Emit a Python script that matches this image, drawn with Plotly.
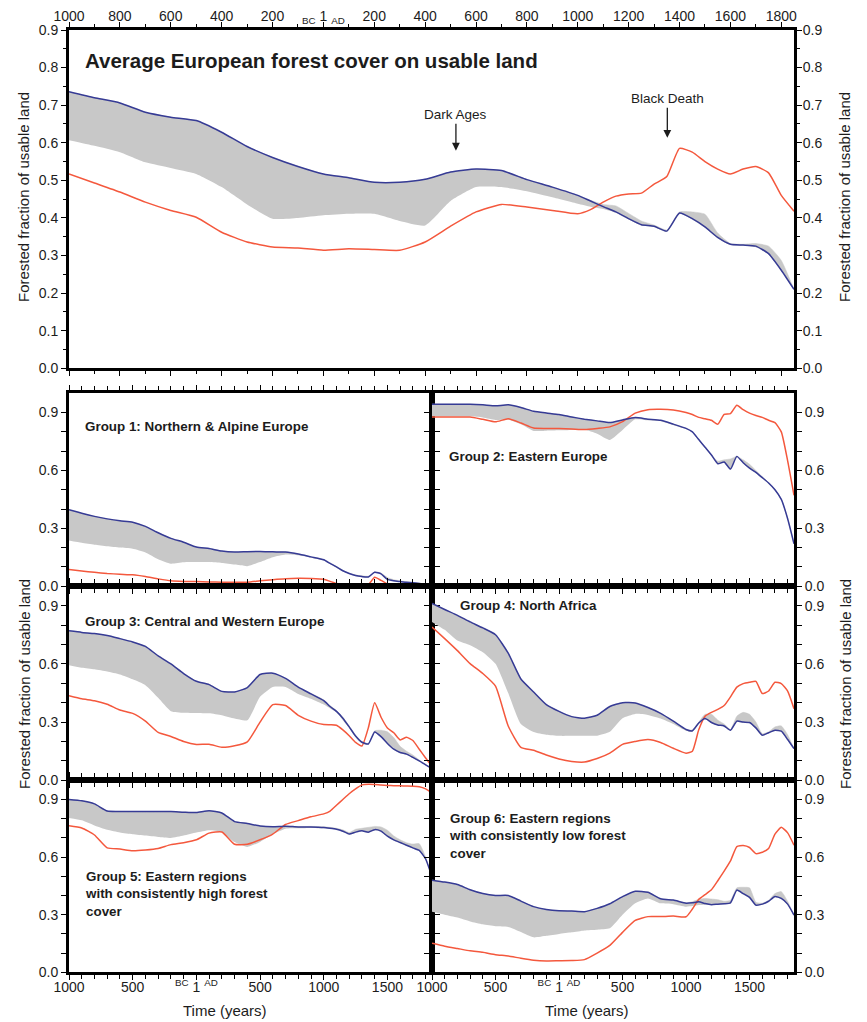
import plotly.graph_objects as go

# ---------------- data ----------------
years = [-1000, -900, -800, -700, -600, -500, -400, -300, -200, -100, 0, 100, 200, 300, 400,
         500, 600, 700, 800, 900, 1000, 1050, 1100, 1150, 1200, 1250, 1300, 1350, 1400, 1450,
         1500, 1550, 1600, 1650, 1700, 1750, 1800, 1850]

avg_blue = [.736, .72, .706, .681, .668, .659, .628, .59, .561, .537, .517, .507, .495, .495, .503,
            .522, .53, .526, .502, .482, .46, .445, .43, .416, .398, .382, .378, .365, .413, .398,
            .376, .348, .33, .328, .325, .305, .261, .21]
avg_hi = [.736, .72, .706, .681, .668, .659, .628, .59, .561, .537, .517, .507, .495, .495, .503,
          .522, .53, .526, .502, .482, .46, .447, .436, .432, .412, .392, .381, .368, .416, .416,
          .41, .36, .332, .33, .332, .325, .287, .21]
avg_lo = [.607, .592, .575, .548, .533, .517, .482, .436, .398, .40, .407, .411, .411, .392, .38,
          .445, .482, .482, .471, .455, .438, .43, .424, .414, .396, .38, .376, .363, .411, .396,
          .374, .346, .328, .326, .322, .303, .26, .208]
avg_red = [.517, .493, .469, .442, .42, .402, .362, .336, .323, .32, .314, .318, .316, .314, .336,
           .378, .416, .436, .429, .42, .411, .422, .442, .458, .464, .466, .49, .51, .585, .575,
           .55, .53, .517, .53, .537, .52, .46, .418]

g1_blue = [.396, .378, .362, .349, .339, .332, .31, .277, .248, .228, .203, .195, .182, .177, .179,
           .18, .178, .177, .167, .152, .137, .118, .1, .08, .066, .055, .05, .048, .072, .064,
           .035, .028, .024, .02, .018, .014, .009, .003]
g1_hi = [.396, .378, .362, .349, .339, .332, .31, .277, .248, .228, .203, .195, .182, .177, .179,
         .18, .178, .177, .167, .152, .137, .12, .102, .082, .068, .058, .054, .052, .075, .068,
         .045, .034, .028, .023, .02, .016, .01, .003]
g1_lo = [.237, .225, .215, .207, .2, .194, .175, .14, .117, .124, .125, .125, .12, .112, .104,
         .125, .15, .164, .16, .148, .133, .115, .096, .077, .063, .052, .047, .045, .07, .062,
         .033, .026, .022, .018, .016, .012, .007, .002]
g1_red = [.087, .079, .072, .066, .062, .059, .05, .038, .028, .025, .024, .022, .021, .021, .021,
          .028, .034, .039, .041, .04, .036, .025, .014, .008, .005, .003, .004, .008, .046, .03,
          .012, .009, .008, .006, .004, .003, .001, 0]

g2_blue = [.943, .943, .943, .943, .94, .935, .94, .926, .907, .898, .89, .877, .866, .857, .848,
           .862, .874, .866, .86, .84, .818, .8, .76, .72, .68, .635, .644, .607, .673, .64,
           .612, .59, .563, .535, .5, .45, .35, .22]
g2_hi = [.943, .943, .943, .943, .94, .935, .94, .926, .907, .898, .89, .877, .866, .857, .848,
         .862, .874, .866, .86, .84, .818, .8, .76, .72, .68, .648, .655, .66, .673, .655,
         .632, .6, .568, .538, .502, .452, .352, .22]
g2_lo = [.881, .881, .881, .881, .875, .862, .864, .839, .805, .806, .808, .81, .812, .79, .758,
         .81, .865, .86, .855, .835, .815, .797, .757, .717, .677, .632, .641, .604, .67, .637,
         .609, .587, .56, .532, .497, .447, .347, .217]
g2_red = [.877, .877, .877, .877, .865, .852, .868, .846, .82, .818, .817, .815, .812, .818, .826,
          .853, .897, .915, .917, .913, .9, .89, .875, .868, .86, .84, .891, .895, .938, .915,
          .897, .885, .875, .86, .848, .8, .65, .471]

g3_blue = [.77, .762, .756, .746, .73, .713, .69, .641, .6, .55, .51, .493, .458, .455, .478,
           .545, .552, .525, .48, .445, .41, .38, .355, .32, .275, .228, .196, .187, .249, .225,
           .19, .16, .143, .135, .118, .1, .08, .06]
g3_hi = [.77, .762, .756, .746, .73, .713, .69, .641, .6, .55, .51, .493, .458, .455, .478,
         .545, .552, .525, .48, .447, .415, .385, .36, .325, .28, .232, .2, .19, .255, .258,
         .25, .22, .175, .15, .13, .105, .082, .06]
g3_lo = [.593, .58, .572, .56, .545, .52, .49, .425, .356, .348, .347, .345, .335, .318, .309,
         .43, .481, .481, .445, .42, .39, .37, .35, .31, .27, .222, .19, .183, .245, .222,
         .187, .158, .14, .132, .115, .097, .078, .058]
g3_red = [.436, .42, .41, .392, .362, .345, .305, .247, .226, .2, .185, .186, .17, .178, .198,
          .30, .39, .385, .335, .305, .287, .286, .284, .26, .23, .195, .177, .27, .399, .325,
          .27, .245, .208, .222, .205, .16, .115, .072]

g4_blue = [.911, .88, .85, .816, .785, .75, .655, .522, .455, .39, .355, .328, .32, .335, .38,
           .4, .398, .375, .345, .305, .262, .255, .295, .318, .298, .285, .28, .258, .305, .3,
           .298, .27, .232, .245, .258, .253, .21, .163]
g4_hi = [.911, .88, .85, .816, .785, .75, .655, .522, .455, .39, .355, .328, .32, .335, .38,
         .4, .398, .375, .345, .305, .262, .26, .3, .34, .34, .31, .29, .262, .33, .35,
         .34, .3, .24, .25, .275, .28, .235, .163]
g4_lo = [.816, .775, .72, .696, .66, .6, .45, .29, .249, .235, .229, .229, .229, .23, .25,
         .32, .342, .337, .318, .29, .255, .25, .29, .314, .295, .282, .277, .255, .3, .296,
         .294, .266, .229, .242, .255, .25, .207, .16]
g4_red = [.79, .73, .668, .601, .55, .485, .28, .17, .155, .13, .11, .097, .094, .112, .14,
          .185, .2, .21, .195, .165, .14, .15, .26, .33, .35, .365, .385, .43, .48, .498,
          .505, .51, .447, .46, .505, .498, .46, .369]

g5_blue = [.9, .893, .877, .84, .838, .837, .837, .837, .837, .834, .832, .841, .83, .785, .775,
           .762, .758, .761, .757, .757, .754, .75, .745, .735, .72, .73, .737, .73, .743, .735,
           .709, .69, .676, .662, .648, .635, .59, .497]
g5_hi = [.9, .893, .877, .84, .838, .837, .837, .837, .837, .834, .832, .841, .83, .785, .775,
         .762, .758, .761, .758, .76, .758, .755, .75, .742, .728, .745, .75, .755, .76, .757,
         .74, .71, .69, .675, .668, .67, .6, .497]
g5_lo = [.804, .792, .765, .742, .728, .719, .712, .705, .7, .712, .728, .74, .731, .678, .653,
         .679, .72, .748, .75, .752, .75, .746, .742, .732, .717, .727, .734, .727, .74, .732,
         .706, .687, .673, .659, .645, .632, .587, .494]
g5_red = [.763, .752, .715, .648, .642, .633, .637, .645, .665, .675, .69, .725, .731, .667, .667,
          .69, .72, .77, .79, .81, .825, .84, .87, .9, .93, .955, .976, .979, .978, .975,
          .973, .972, .971, .97, .969, .966, .955, .934]

g6_blue = [.48, .47, .457, .43, .41, .4, .4, .371, .342, .327, .32, .319, .316, .333, .357,
           .394, .422, .417, .383, .376, .36, .362, .367, .358, .352, .355, .357, .362, .428, .41,
           .39, .35, .355, .37, .395, .385, .355, .298]
g6_hi = [.48, .47, .457, .43, .41, .4, .4, .371, .342, .327, .32, .319, .316, .333, .357,
         .394, .422, .417, .383, .377, .362, .368, .38, .385, .382, .378, .37, .375, .44, .443,
         .44, .365, .36, .375, .41, .42, .37, .298]
g6_lo = [.315, .3, .285, .265, .25, .24, .236, .21, .182, .19, .2, .208, .218, .222, .229,
         .3, .36, .385, .359, .355, .342, .345, .35, .352, .35, .352, .355, .358, .425, .405,
         .387, .347, .352, .367, .392, .382, .352, .295]
g6_red = [.151, .136, .124, .112, .104, .092, .085, .073, .063, .059, .06, .061, .066, .1, .14,
          .208, .27, .29, .29, .293, .289, .33, .38, .405, .43, .477, .527, .58, .655, .66,
          .65, .618, .625, .645, .72, .755, .726, .662]

group_labels = [
    "<b>Group 1: Northern &amp; Alpine Europe</b>",
    "<b>Group 2: Eastern Europe</b>",
    "<b>Group 3: Central and Western Europe</b>",
    "<b>Group 4: North Africa</b>",
    "<b>Group 5: Eastern regions<br>with consistently high forest<br>cover</b>",
    "<b>Group 6: Eastern regions<br>with consistently low forest<br>cover</b>",
]

top_tick_vals = [-1000, -800, -600, -400, -200, 0, 200, 400, 600, 800, 1000, 1200, 1400, 1600, 1800]
top_tick_text = ["1000", "800", "600", "400", "200", "<sub>BC</sub> 1 <sub>AD</sub>", "200", "400",
                 "600", "800", "1000", "1200", "1400", "1600", "1800"]
low_tick_vals = [-1000, -500, 0, 500, 1000, 1500]
low_tick_text = ["1000", "500", "<sup>BC</sup> 1 <sup>AD</sup>", "500", "1000", "1500"]
low_y_vals = [0, .3, .6, .9]
low_y_text = ["0.0", "0.3", "0.6", "0.9"]
low_y_minor = [.1, .2, .4, .5, .7, .8]
top_y_vals = [0, .1, .2, .3, .4, .5, .6, .7, .8, .9]
top_y_minor = [.05, .15, .25, .35, .45, .55, .65, .75, .85]

# ---------------- style ----------------
FONT = "Liberation Sans, Arial, sans-serif"
BLUE = "#363b95"
RED = "#f4583d"
GREY = "#c8c8c8"
INK = "#1c1c1c"
W, H = 867, 1022


def fx(p):
    return p / W


def fy(p):
    return 1 - p / H


fig = go.Figure()

series = [
    (avg_blue, avg_hi, avg_lo, avg_red),
    (g1_blue, g1_hi, g1_lo, g1_red),
    (g2_blue, g2_hi, g2_lo, g2_red),
    (g3_blue, g3_hi, g3_lo, g3_red),
    (g4_blue, g4_hi, g4_lo, g4_red),
    (g5_blue, g5_hi, g5_lo, g5_red),
    (g6_blue, g6_hi, g6_lo, g6_red),
]
axis_ids = [("x", "y"), ("x3", "y3"), ("x4", "y4"), ("x5", "y5"), ("x6", "y6"), ("x7", "y7"), ("x8", "y8")]

SHAPE = dict(shape="spline", smoothing=0.5)
for (blue, hi, lo, red), (xa, ya) in zip(series, axis_ids):
    fig.add_trace(go.Scatter(x=years, y=lo, xaxis=xa, yaxis=ya, mode="lines",
                             line=dict(width=0, color=GREY, **SHAPE), hoverinfo="skip",
                             showlegend=False))
    fig.add_trace(go.Scatter(x=years, y=hi, xaxis=xa, yaxis=ya, mode="lines", fill="tonexty",
                             fillcolor=GREY, line=dict(width=0.5, color=GREY, **SHAPE),
                             hoverinfo="skip", showlegend=False))
    fig.add_trace(go.Scatter(x=years, y=red, xaxis=xa, yaxis=ya, mode="lines",
                             line=dict(width=1.5, color=RED, **SHAPE), showlegend=False))
    fig.add_trace(go.Scatter(x=years, y=blue, xaxis=xa, yaxis=ya, mode="lines",
                             line=dict(width=1.5, color=BLUE, **SHAPE), showlegend=False))

# invisible trace so that the right-hand axis of the top panel is drawn
fig.add_trace(go.Scatter(x=[-1000], y=[0], xaxis="x", yaxis="y2", mode="markers",
                         marker=dict(size=1, opacity=0), hoverinfo="skip", showlegend=False))

tickfont = dict(family=FONT, size=14, color=INK)
common = dict(showline=True, linewidth=3, linecolor="black", mirror="ticks", ticks="outside",
              tickcolor="black", tickwidth=1, showgrid=False, zeroline=False, tickfont=tickfont,
              fixedrange=True, automargin=False)

layout = dict(
    width=W, height=H, autosize=False, margin=dict(l=0, r=0, t=0, b=0),
    paper_bgcolor="white", plot_bgcolor="white", showlegend=False,
    font=dict(family=FONT, color=INK),
)

# top panel
layout["xaxis"] = dict(common, domain=[fx(69), fx(794)], anchor="y", side="top", range=[-1000, 1850],
                       tickmode="array", tickvals=top_tick_vals, ticktext=top_tick_text, ticklen=5,
                       ticklabelstandoff=-5,
                       minor=dict(tickmode="array", ticks="outside", ticklen=3, tickcolor="black",
                                  tickvals=[v + 100 for v in top_tick_vals]))
layout["yaxis"] = dict(common, domain=[fy(368.3), fy(30)], anchor="x", range=[0, 0.9],
                       tickmode="array", tickvals=top_y_vals, tickformat=".1f", ticklen=5,
                       minor=dict(tickmode="array", ticks="outside", ticklen=3, tickcolor="black",
                                  tickvals=top_y_minor))
layout["yaxis2"] = dict(overlaying="y", side="right", anchor="x", range=[0, 0.9], showline=False,
                        showgrid=False, zeroline=False, ticks="outside", ticklen=5, tickcolor="black",
                        tickmode="array", tickvals=top_y_vals, tickformat=".1f", tickfont=tickfont,
                        fixedrange=True, automargin=False)

col_dom = [[fx(69), fx(432)], [fx(432), fx(794)]]
row_px = [(393.3, 586.2), (586.2, 780.3), (780.3, 972.3)]
for i in range(6):
    r, c = divmod(i, 2)
    n = i + 3
    xa = dict(common, domain=col_dom[c], anchor=f"y{n}", range=[-1000, 1850], tickmode="array",
              tickvals=low_tick_vals, ticktext=low_tick_text, ticklen=5,
              showticklabels=(r == 2), ticklabelstandoff=-5,
              minor=dict(tickmode="array", ticks="outside", ticklen=4, tickcolor="black",
                         tickvals=[v for v in range(-900, 1850, 100) if v % 500 != 0]))
    ya = dict(common, domain=[fy(row_px[r][1]), fy(row_px[r][0])], anchor=f"x{n}", range=[0, 1.0],
              tickmode="array", tickvals=low_y_vals, ticktext=low_y_text, ticklen=5,
              side="left" if c == 0 else "right",
              minor=dict(tickmode="array", ticks="outside", ticklen=5, tickcolor="black",
                         tickvals=low_y_minor))
    layout[f"xaxis{n}"] = xa
    layout[f"yaxis{n}"] = ya

fig.update_layout(**layout)

ann = []
ann.append(dict(text="<b>Average European forest cover on usable land</b>", x=fx(83), y=fy(60),
                xref="paper", yref="paper", xanchor="left", yanchor="middle", showarrow=False,
                font=dict(family=FONT, size=20.5, color=INK)))
label_pos = [(83, 426.7), (446.7, 456.7), (83, 621.7), (458, 605), (83, 894), (446.7, 835.7)]
for txt, (px_, py_) in zip(group_labels, label_pos):
    ann.append(dict(text=txt, x=fx(px_), y=fy(py_), xref="paper", yref="paper", xanchor="left",
                    yanchor="middle", align="left", showarrow=False,
                    font=dict(family=FONT, size=13.4, color=INK)))
ytitle = "Forested fraction of usable land"
for xp, yp in [(24, 197), (845, 197), (24, 684), (845, 684)]:
    ann.append(dict(text=ytitle, x=fx(xp), y=fy(yp), xref="paper", yref="paper", xanchor="center",
                    yanchor="middle", textangle=-90, showarrow=False,
                    font=dict(family=FONT, size=15, color=INK)))
for xp in (225, 587):
    ann.append(dict(text="Time (years)", x=fx(xp), y=fy(1010), xref="paper", yref="paper",
                    xanchor="center", yanchor="middle", showarrow=False,
                    font=dict(family=FONT, size=15, color=INK)))
ann.append(dict(text="Dark Ages", x=521, y=0.579, xref="x", yref="y", ax=0, ay=-36,
                showarrow=True, arrowhead=2, arrowsize=1.2, arrowwidth=1.3, arrowcolor=INK,
                standoff=0, font=dict(family=FONT, size=13.5, color=INK)))
ann.append(dict(text="Black Death", x=1352, y=0.6135, xref="x", yref="y", ax=0, ay=-39,
                showarrow=True, arrowhead=2, arrowsize=1.2, arrowwidth=1.3, arrowcolor=INK,
                standoff=0, font=dict(family=FONT, size=13.5, color=INK)))
fig.update_layout(annotations=ann)

fig.write_html("out.html", config={"displayModeBar": False},
               post_script="document.body.style.margin='0';document.body.style.padding='0';"
                           "document.body.style.overflow='hidden';")
